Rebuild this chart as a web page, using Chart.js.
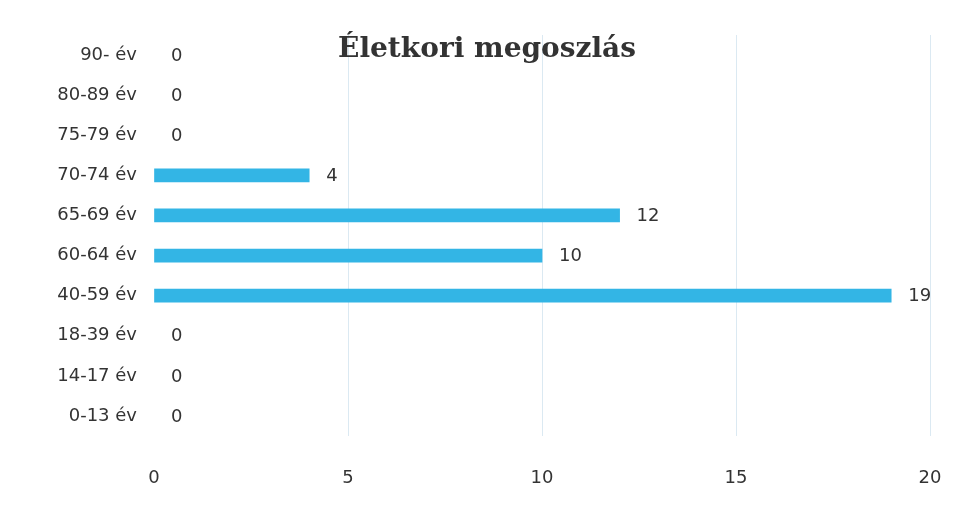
<!DOCTYPE html>
<html>
<head>
<meta charset="utf-8">
<script src="https://cdn.jsdelivr.net/npm/chart.js@4"></script>
<style>
  html, body { margin: 0; padding: 0; background: #fff; }
  #wrap { width: 954px; height: 508px; position: relative; }
</style>
</head>
<body>
<div id="wrap"><canvas id="ageChart" width="954" height="508"></canvas></div>
<script>
'use strict';

// DATA
const chartTitle = 'Életkori megoszlás';
const ageGroups = ['90- év', '80-89 év', '75-79 év', '70-74 év', '65-69 év', '60-64 év', '40-59 év', '18-39 év', '14-17 év', '0-13 év'];
const counts = [0, 0, 0, 4, 12, 10, 19, 0, 0, 0];
const xTicks = [0, 5, 10, 15, 20];

const barColor = '#33b5e5';

// value labels next to the bars
const valueLabels = {
  id: 'valueLabels',
  afterDatasetsDraw(chart) {
    const ctx = chart.ctx;
    const meta = chart.getDatasetMeta(0);
    ctx.save();
    ctx.font = '18px "DejaVu Sans"';
    ctx.fillStyle = '#333';
    ctx.textAlign = 'left';
    ctx.textBaseline = 'middle';
    meta.data.forEach((bar, i) => {
      ctx.fillText(String(counts[i]), bar.x + 17, bar.y + 1);
    });
    ctx.restore();
  },
};

// title sits over the top of the plot area
const overlayTitle = {
  id: 'overlayTitle',
  afterDraw(chart) {
    const ctx = chart.ctx;
    ctx.save();
    ctx.font = 'bold 28px "DejaVu Serif"';
    ctx.fillStyle = '#333';
    ctx.textAlign = 'center';
    ctx.textBaseline = 'middle';
    ctx.fillText(chartTitle, 487, 50);
    ctx.restore();
  },
};

const ctx = document.querySelector('#ageChart');

const ageChart = new Chart(ctx, {
  type: 'bar',
  data: {
    labels: ageGroups,
    datasets: [
      {
        label: chartTitle,
        data: counts,
        backgroundColor: c => (c.raw === 0 ? 'rgba(0,0,0,0)' : barColor),
        barThickness: 13,
      },
    ],
  },
  options: {
    indexAxis: 'y',
    responsive: false,
    animation: false,
    layout: {
      padding: { top: 35, right: 24, left: 0, bottom: 0 },
    },
    plugins: {
      legend: { display: false },
      tooltip: { enabled: false },
    },
    scales: {
      x: {
        min: 0,
        max: 20,
        afterBuildTicks(scale) {
          scale.ticks = xTicks.map(v => ({ value: v }));
        },
        afterFit(scale) {
          scale.height = 72;
          scale.paddingLeft = 0;
          scale.paddingRight = 0;
        },
        grid: {
          color: c => (c.tick && c.tick.value === 0 ? 'rgba(0,0,0,0)' : '#dbe9f2'),
          drawTicks: false,
        },
        border: { display: false },
        ticks: {
          padding: 32,
          color: '#333',
          font: { family: 'DejaVu Sans', size: 18 },
        },
      },
      y: {
        afterFit(scale) {
          scale.width = 154;
        },
        grid: { display: false, drawTicks: false },
        border: { display: false },
        ticks: {
          padding: 17,
          color: '#333',
          font: { family: 'DejaVu Sans', size: 18 },
        },
      },
    },
  },
  plugins: [valueLabels, overlayTitle],
});
</script>
</body>
</html>
